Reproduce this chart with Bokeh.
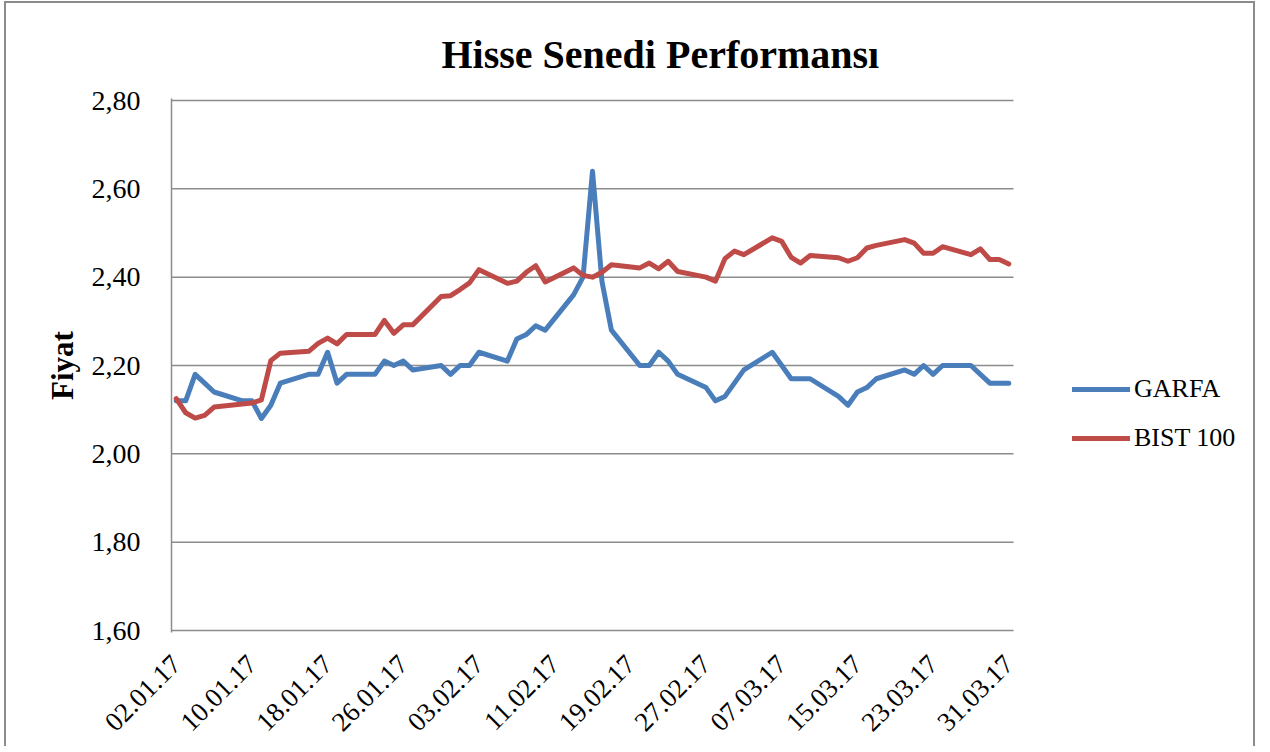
import pandas as pd
from bokeh.plotting import figure
from bokeh.models import (Range1d, FixedTicker, DatetimeTickFormatter, CustomJSTickFormatter,
                          Legend, LegendItem)
from bokeh.embed import file_html
from bokeh.resources import INLINE

title_text = "Hisse Senedi Performansı"
y_label = "Fiyat"
series_names = ["GARFA", "BIST 100"]

dates = [
    "02.01.17", "03.01.17", "04.01.17", "05.01.17", "06.01.17",
    "09.01.17", "10.01.17", "11.01.17", "12.01.17", "13.01.17",
    "16.01.17", "17.01.17", "18.01.17", "19.01.17", "20.01.17",
    "23.01.17", "24.01.17", "25.01.17", "26.01.17", "27.01.17",
    "30.01.17", "31.01.17",
    "01.02.17", "02.02.17", "03.02.17",
    "06.02.17", "07.02.17", "08.02.17", "09.02.17", "10.02.17",
    "13.02.17", "14.02.17", "15.02.17", "16.02.17", "17.02.17",
    "20.02.17", "21.02.17", "22.02.17", "23.02.17", "24.02.17",
    "27.02.17", "28.02.17",
    "01.03.17", "02.03.17", "03.03.17",
    "06.03.17", "07.03.17", "08.03.17", "09.03.17", "10.03.17",
    "13.03.17", "14.03.17", "15.03.17", "16.03.17", "17.03.17",
    "20.03.17", "21.03.17", "22.03.17", "23.03.17", "24.03.17",
    "27.03.17", "28.03.17", "29.03.17", "30.03.17", "31.03.17",
]

garfa = [
    2.12, 2.12, 2.18, 2.16, 2.14,
    2.12, 2.12, 2.08, 2.11, 2.16,
    2.18, 2.18, 2.23, 2.16, 2.18,
    2.18, 2.21, 2.20, 2.21, 2.19,
    2.20, 2.18,
    2.20, 2.20, 2.23,
    2.21, 2.26, 2.27, 2.29, 2.28,
    2.36, 2.40, 2.64, 2.39, 2.28,
    2.20, 2.20, 2.23, 2.21, 2.18,
    2.15, 2.12,
    2.13, 2.16, 2.19,
    2.23, 2.20, 2.17, 2.17, 2.17,
    2.13, 2.11, 2.14, 2.15, 2.17,
    2.19, 2.18, 2.20, 2.18, 2.20,
    2.20, 2.18, 2.16, 2.16, 2.16,
]

bist100 = [
    2.125, 2.093, 2.081, 2.087, 2.106,
    2.113, 2.115, 2.122, 2.211, 2.228,
    2.232, 2.250, 2.262, 2.249, 2.270,
    2.270, 2.302, 2.273, 2.292, 2.292,
    2.356, 2.358,
    2.372, 2.387, 2.417,
    2.386, 2.391, 2.411, 2.426, 2.389,
    2.421, 2.404, 2.400, 2.411, 2.428,
    2.421, 2.432, 2.419, 2.436, 2.413,
    2.400, 2.391,
    2.442, 2.459, 2.451,
    2.489, 2.481, 2.445, 2.432, 2.449,
    2.444, 2.436, 2.444, 2.466, 2.472,
    2.485, 2.477, 2.454, 2.454, 2.469,
    2.451, 2.464, 2.440, 2.440, 2.430,
]

x_tick_labels = ["02.01.17", "10.01.17", "18.01.17", "26.01.17", "03.02.17", "11.02.17",
                 "19.02.17", "27.02.17", "07.03.17", "15.03.17", "23.03.17", "31.03.17"]
y_ticks = [1.6, 1.8, 2.0, 2.2, 2.4, 2.6, 2.8]

BLUE = "#4a7ebb"
RED = "#be4b48"
GRID = "#8c8c8c"
SERIF = "Liberation Serif"

# ---- layout constants (pixels) ----
W, H = 1251, 745
FRAME_L, FRAME_T, FRAME_B = 165, 95, 629      # frame box inside the canvas
PLOT_W = 842                                   # width of the drawn (data) area
PLOT_H = 530                                   # height between 1,60 and 2,80
frame_w = W - FRAME_L
frame_h = FRAME_B - FRAME_T
pad_px = (frame_h - PLOT_H) / 2

x = pd.to_datetime(dates, format="%d.%m.%y")
tick_dates = pd.to_datetime(x_tick_labels, format="%d.%m.%y")
tick_ms = [int(t.value // 10**6) for t in tick_dates]
half_day = pd.Timedelta(hours=12)
x_start = x[0] - half_day
x_data_end = x[-1] + half_day
x_end = x_start + (x_data_end - x_start) * (frame_w / PLOT_W)

y_lo, y_hi = y_ticks[0], y_ticks[-1]
y_per_px = (y_hi - y_lo) / PLOT_H

p = figure(width=W, height=H, x_axis_type="datetime",
           output_backend="svg", toolbar_location=None,
           x_range=Range1d(x_start, x_end),
           y_range=Range1d(y_lo - pad_px * y_per_px, y_hi + pad_px * y_per_px))
p.min_border_left = FRAME_L
p.min_border_right = 0
p.min_border_top = FRAME_T
p.min_border_bottom = H - FRAME_B
p.outline_line_color = None
p.background_fill_color = "white"
p.border_fill_color = "white"
p.styles = {"border-top": "2px solid #8c8c8c", "border-left": "2px solid #8c8c8c",
            "border-right": "2px solid #8c8c8c", "margin-left": "4px", "margin-top": "1px"}

# horizontal grid lines and x-axis line limited to the data area
p.segment(x0=[x_start] * len(y_ticks), x1=[x_data_end] * len(y_ticks),
          y0=y_ticks, y1=y_ticks, line_color=GRID, line_width=1.5)

r1 = p.line(x, garfa, line_color=BLUE, line_width=5, line_join="round", line_cap="round")
r2 = p.line(x, bist100, line_color=RED, line_width=5, line_join="round", line_cap="round")

# title
p.title.text = title_text
p.title.align = "left"
p.title.vertical_align = "top"
p.title.offset = 270
p.title.standoff = 39
p.title.text_font = SERIF
p.title.text_font_style = "bold"
p.title.text_font_size = "40px"
p.title.text_color = "black"

p.xgrid.grid_line_color = None
p.ygrid.grid_line_color = None

# y axis
p.yaxis.ticker = FixedTicker(ticks=y_ticks)
p.yaxis.formatter = CustomJSTickFormatter(code="return tick.toFixed(2).replace('.', ',');")
p.yaxis.axis_line_color = GRID
p.yaxis.axis_line_width = 1.5
p.yaxis.major_tick_line_color = None
p.yaxis.minor_tick_line_color = None
p.yaxis.major_tick_out = 0
p.yaxis.major_label_standoff = 31
p.yaxis.major_label_text_font = SERIF
p.yaxis.major_label_text_font_size = "28px"
p.yaxis.major_label_text_color = "black"
p.yaxis.axis_label = y_label
p.yaxis.axis_label_text_font = SERIF
p.yaxis.axis_label_text_font_style = "bold"
p.yaxis.axis_label_text_font_size = "31px"
p.yaxis.axis_label_text_color = "black"
p.yaxis.axis_label_standoff = 9

# x axis
p.xaxis.ticker = FixedTicker(ticks=tick_ms)
fmt = "%d.%m.%y"
p.xaxis.formatter = DatetimeTickFormatter(days=fmt, months=fmt, years=fmt, hours=fmt,
                                          hourmin=fmt, minutes=fmt, minsec=fmt,
                                          seconds=fmt, milliseconds=fmt, microseconds=fmt)
p.xaxis.major_label_orientation = 3.14159265 / 4
p.xaxis.axis_line_color = None
p.xaxis.major_tick_line_color = None
p.xaxis.minor_tick_line_color = None
p.xaxis.major_tick_out = 0
p.xaxis.major_label_standoff = 27
p.xaxis.major_label_text_font = SERIF
p.xaxis.major_label_text_font_size = "27px"
p.xaxis.major_label_text_color = "black"

# legend
legend = Legend(items=[LegendItem(label=series_names[0], renderers=[r1]),
                       LegendItem(label=series_names[1], renderers=[r2])],
                location=(901, 179))
legend.border_line_color = None
legend.background_fill_alpha = 0
legend.padding = 0
legend.margin = 0
legend.spacing = 19
legend.glyph_width = 58
legend.glyph_height = 30
legend.label_height = 30
legend.label_standoff = 4
legend.label_text_font = SERIF
legend.label_text_font_size = "26px"
legend.label_text_color = "black"
p.add_layout(legend)

open("out.html", "w").write(file_html(p, INLINE))
